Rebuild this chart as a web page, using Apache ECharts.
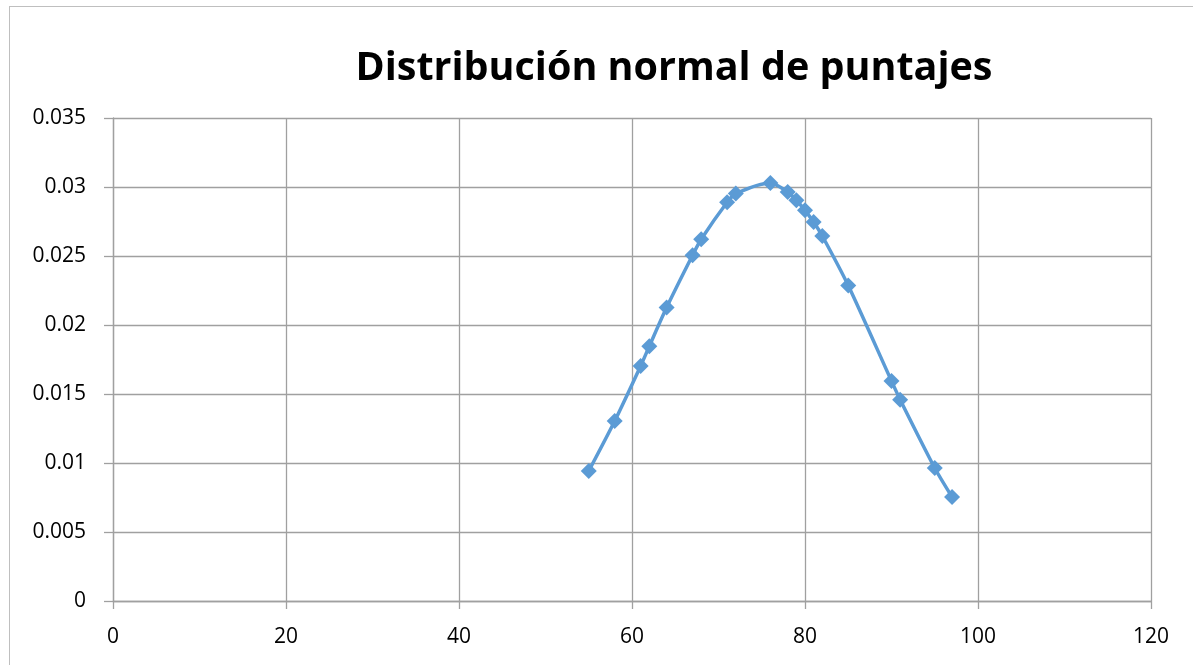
<!DOCTYPE html>
<html>
<head>
<meta charset="utf-8">
<script src="https://cdn.jsdelivr.net/npm/echarts@6/dist/echarts.min.js"></script>
<style>
  html, body { margin: 0; padding: 0; background: #fff; }
  #frame { position: absolute; left: 9px; top: 6px; width: 1190px; height: 665px; border: 1px solid #bfbfbf; }
  #chart { position: absolute; left: 0; top: 0; width: 1193px; height: 665px; }
</style>
</head>
<body>
<div id="frame"></div>
<div id="chart"></div>
<script>
// puntajes y densidad normal
const scores = [55, 58, 61, 62, 64, 67, 68, 71, 72, 76, 78, 79, 80, 81, 82, 85, 90, 91, 95, 97];
const density = [0.00942, 0.01304, 0.01703, 0.01846, 0.02126, 0.02505, 0.02621, 0.02889, 0.02952, 0.03029,
  0.02964, 0.02904, 0.02831, 0.02746, 0.02645, 0.02286, 0.01594, 0.01459, 0.00964, 0.00754];

const points = scores.map((x, i) => [x, density[i]]);

const chart = echarts.init(document.getElementById('chart'));
const gridColor = '#a0a0a0';
chart.setOption({
  backgroundColor: 'transparent',
  title: {
    text: 'Distribución normal de puntajes',
    left: 669,
    top: 44,
    textAlign: 'center',
    textStyle: { fontFamily: 'Open Sans', fontWeight: 'bold', fontSize: 39.5, color: '#000' }
  },
  grid: { left: 113, right: 42, top: 118, bottom: 64 },
  xAxis: {
    type: 'value',
    min: 0, max: 120, interval: 20,
    axisLine: { lineStyle: { color: gridColor, width: 1.3 } },
    axisTick: { show: true, length: 8, lineStyle: { color: gridColor, width: 1.3 } },
    axisLabel: { color: '#000', fontSize: 21, fontFamily: 'Open Sans', margin: 26 },
    splitLine: { show: true, lineStyle: { color: gridColor, width: 1.3 } }
  },
  yAxis: {
    type: 'value',
    min: 0, max: 0.035, interval: 0.005,
    axisLine: { show: true, lineStyle: { color: gridColor, width: 1.3 } },
    axisTick: { show: true, length: 9, lineStyle: { color: gridColor, width: 1.3 } },
    axisLabel: { color: '#000', fontSize: 21, fontFamily: 'Open Sans', margin: 27 },
    splitLine: { show: true, lineStyle: { color: gridColor, width: 1.3 } }
  },
  series: [{
    type: 'line',
    data: points,
    smooth: 0.25,
    symbol: 'diamond',
    symbolSize: 16,
    lineStyle: { color: '#5b9bd5', width: 3.5 },
    itemStyle: { color: '#5b9bd5' }
  }]
});
</script>
</body>
</html>
